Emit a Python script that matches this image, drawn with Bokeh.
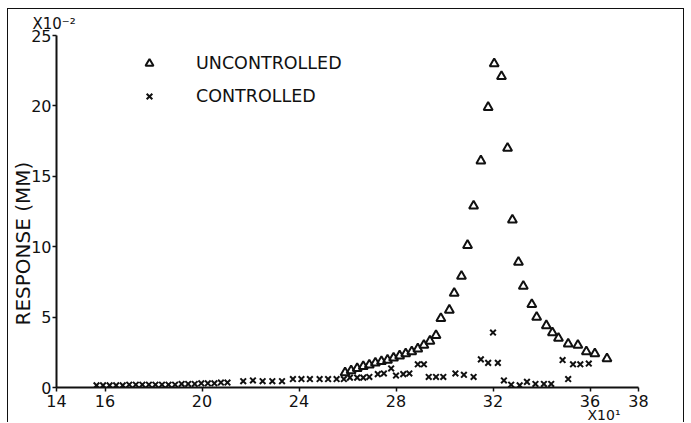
from bokeh.plotting import figure
from bokeh.models import FixedTicker, Legend, LegendItem, Range1d, Title
from bokeh.embed import file_html
from bokeh.resources import INLINE

# Frequency (x10^1) and response (x10^-2 mm)
unc_x = [25.9, 26.15, 26.4, 26.65, 26.9, 27.15, 27.4, 27.65, 27.9, 28.15, 28.4, 28.65,
         28.9, 29.15, 29.4, 29.65, 29.85, 30.2, 30.4, 30.7, 30.95, 31.2, 31.5, 31.8,
         32.05, 32.35, 32.6, 32.8, 33.05, 33.25, 33.6, 33.8, 34.2, 34.45, 34.7, 35.1,
         35.5, 35.85, 36.2, 36.7]
unc_y = [1.05, 1.2, 1.35, 1.5, 1.6, 1.75, 1.85, 1.95, 2.1, 2.25, 2.4, 2.55,
         2.75, 3.0, 3.3, 3.7, 4.9, 5.5, 6.7, 7.9, 10.1, 12.9, 16.1, 19.9,
         23.0, 22.1, 17.0, 11.9, 8.9, 7.2, 5.9, 5.0, 4.4, 3.9, 3.5, 3.1,
         3.0, 2.55, 2.4, 2.05]

con_x = [15.65, 15.92, 16.19, 16.46, 16.73, 17.0, 17.27, 17.54, 17.81, 18.08, 18.35,
         18.62, 18.89, 19.16, 19.43, 19.7, 19.97, 20.24, 20.51, 20.78, 21.05,
         21.7, 22.1, 22.5, 22.9, 23.3,
         23.75, 24.1, 24.45, 24.85, 25.2, 25.55, 25.85,
         26.1, 26.4, 26.65, 26.9, 27.25, 27.5,
         27.8, 28.0, 28.3, 28.55, 28.9, 29.15,
         29.35, 29.65, 29.95,
         30.45, 30.8, 31.2,
         31.5, 31.8, 32.0, 32.2,
         32.45, 32.75, 33.1, 33.4, 33.75, 34.1, 34.4,
         34.87, 35.1, 35.3, 35.6, 35.95]
con_y = [0.15, 0.15, 0.15, 0.15, 0.15, 0.2, 0.2, 0.2, 0.2, 0.2, 0.2,
         0.2, 0.2, 0.25, 0.25, 0.25, 0.3, 0.3, 0.3, 0.35, 0.35,
         0.45, 0.5, 0.45, 0.45, 0.45,
         0.6, 0.6, 0.6, 0.6, 0.6, 0.6, 0.6,
         0.7, 0.7, 0.7, 0.75, 0.95, 1.0,
         1.35, 0.85, 0.95, 1.0, 1.65, 1.65,
         0.75, 0.75, 0.75,
         1.0, 0.9, 0.75,
         2.0, 1.75, 3.9, 1.75,
         0.5, 0.2, 0.15, 0.4, 0.25, 0.25, 0.25,
         1.95, 0.6, 1.65, 1.65, 1.7]

x_ticks = [14, 16, 20, 24, 28, 32, 36, 38]
y_ticks = [0, 5, 10, 15, 20, 25]

INK = "#111111"
FONT = "DejaVu Sans"

p = figure(width=677, height=414, output_backend="svg", toolbar_location=None,
           x_range=Range1d(14, 38), y_range=Range1d(0, 25),
           min_border_left=48, min_border_right=47, min_border_top=26, min_border_bottom=36)
p.styles = {"border-top": "1.5px solid #111", "border-left": "1.5px solid #111",
            "border-right": "1.5px solid #111", "margin-left": "7px", "margin-top": "8px"}
p.outline_line_color = None
p.xgrid.visible = False
p.ygrid.visible = False
p.background_fill_color = "white"
p.border_fill_color = "white"

for ax in (p.xaxis, p.yaxis):
    ax.axis_line_color = INK
    ax.axis_line_width = 2
    ax.major_tick_line_color = INK
    ax.major_tick_line_width = 1.5
    ax.major_tick_in = 0
    ax.major_tick_out = 4
    ax.minor_tick_line_color = None
    ax.major_label_text_font = FONT
    ax.major_label_text_font_size = "16px"
    ax.major_label_text_color = INK
    ax.major_label_standoff = 3
p.yaxis.major_label_standoff = 1
p.xaxis.ticker = FixedTicker(ticks=x_ticks)
p.yaxis.ticker = FixedTicker(ticks=y_ticks)

r1 = p.scatter(unc_x, unc_y, marker="triangle", size=9, line_color=INK,
               line_width=2, fill_color=None)
r2 = p.scatter(con_x, con_y, marker="x", size=8, line_color=INK, line_width=2)

legend = Legend(items=[LegendItem(label="UNCONTROLLED", renderers=[r1]),
                       LegendItem(label="CONTROLLED", renderers=[r2])],
                location=(83, 281), padding=0, margin=0, spacing=13,
                glyph_width=20, glyph_height=20, label_standoff=37,
                label_text_font=FONT, label_text_font_size="17.5px",
                label_text_color=INK, border_line_color=None,
                background_fill_alpha=0)
p.add_layout(legend)

p.add_layout(Title(text="RESPONSE (MM)", align="left", offset=62, standoff=-12,
                   text_font=FONT, text_font_size="20px", text_font_style="normal",
                   text_color=INK), "left")
p.add_layout(Title(text="X10\u207b\u00b2", align="left", offset=-24, standoff=6,
                   text_font=FONT, text_font_size="15px", text_font_style="normal",
                   text_color=INK), "above")
p.add_layout(Title(text="X10\u00b9", align="right", offset=18, standoff=-9,
                   text_font=FONT, text_font_size="14px", text_font_style="normal",
                   text_color=INK), "below")

open("out.html", "w").write(file_html(p, INLINE))
